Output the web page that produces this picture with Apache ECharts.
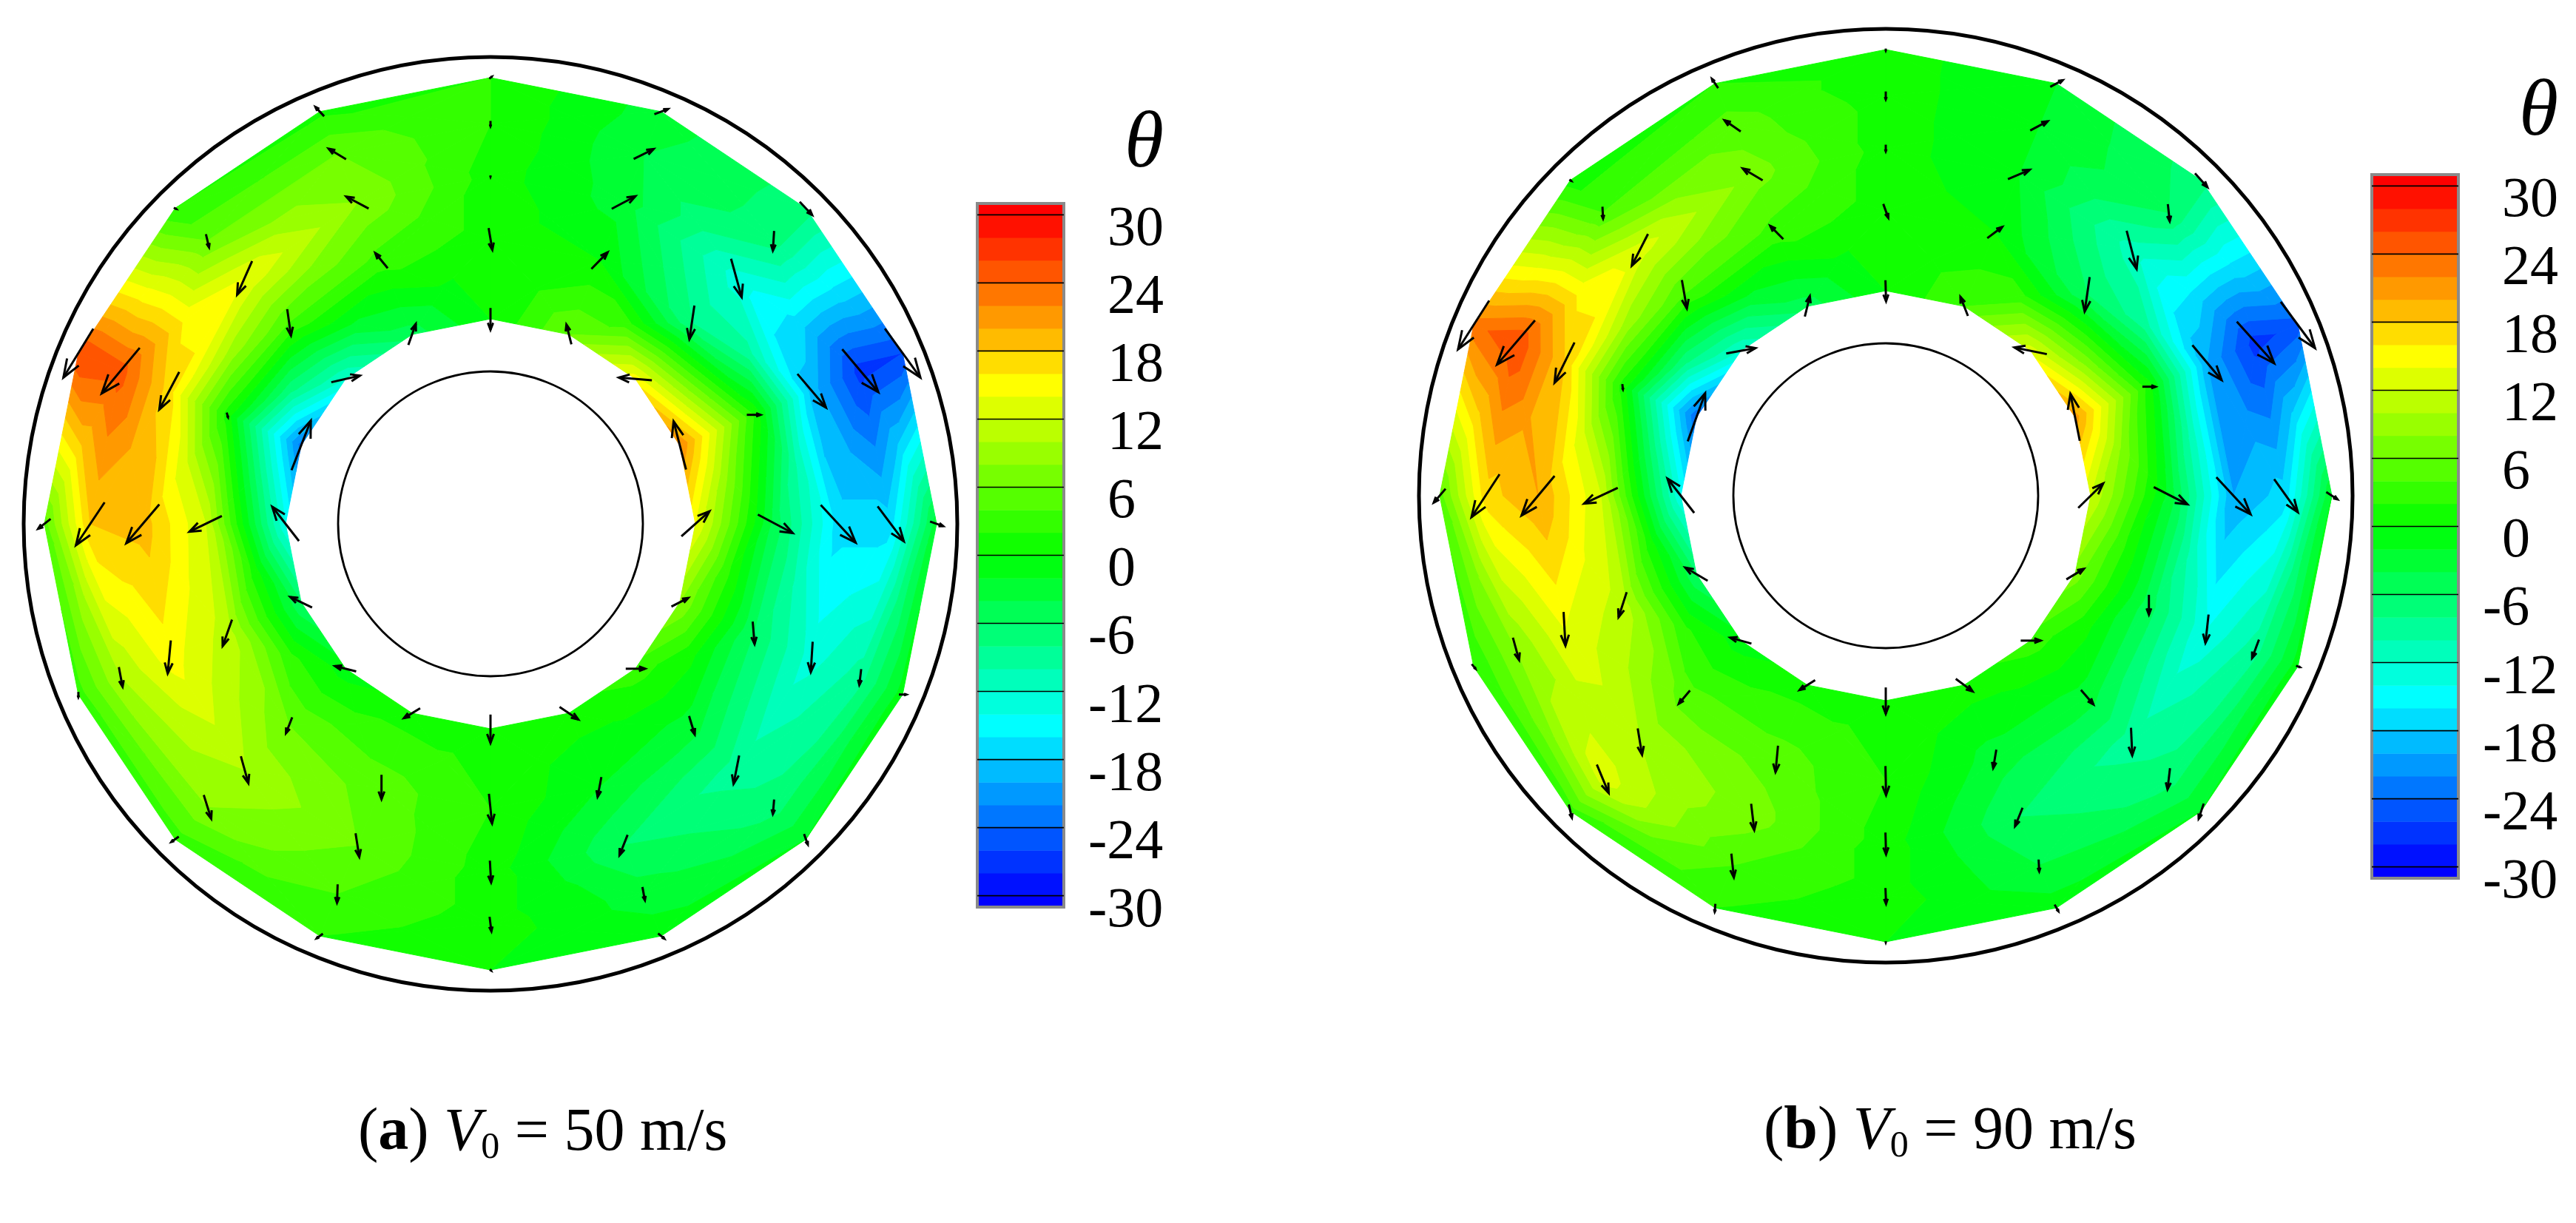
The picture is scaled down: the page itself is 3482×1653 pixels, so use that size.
<!DOCTYPE html>
<html>
<head>
<meta charset="utf-8">
<style>html,body{margin:0;padding:0;background:#fff}#c{width:3482px;height:1653px;filter:blur(0.7px)}</style>
<script src="https://cdn.jsdelivr.net/npm/echarts@6/dist/echarts.min.js"></script>
</head>
<body>
<div id="c"></div>
<script>
// Grid of the annulus: ring radii (inner to outer), 16 spokes clockwise from the top
const ringRadii = [277, 385, 470, 541, 603];
const spokeCount = 16;
const innerCircleRadius = 206;
const outerCircleRadius = 631;

// theta at each node: one row per spoke, inner ring first
const thetaA = [
  [0, 1, 1, 2, 2],
  [6, 0, -3, -4, -3],
  [15, -8, -13, -7, -7],
  [22, 2, -19, -27, -26],
  [14, -5, -17, -17, -3],
  [8, -6, -13, -9, -1],
  [3, -3, -9, -7, -2],
  [1, -2, -6, -3, -1],
  [1, 2, 1, 1, 0],
  [1, 5, 6, 4, 2],
  [-1, 6, 10, 8, 3],
  [-6, 11, 15, 10, 3],
  [-14, 12, 19, 18, 5],
  [-23, 1, 17, 25, 26],
  [-12, 4, 14, 6, 2],
  [-5, 3, 8, 6, 1.5]
];
const thetaB = [
  [0, 1, 1, 1, 1],
  [4, 0, -2, -2, -2],
  [13, -6, -11, -6, -7],
  [21, 1, -20, -27, -25],
  [12, -3, -20, -17, -2],
  [7, -5, -14, -9, -1],
  [3, -3, -9, -7, -2],
  [1, -3, -6, -4, -1],
  [1, 2, 1, 1, 0],
  [1, 5, 7, 4, 2],
  [-1, 5, 10, 13, 3],
  [-6, 11, 14, 8, 2],
  [-14, 12, 20, 17, 5],
  [-24, 1, 18, 26, 23],
  [-12, 4, 13, 4, 1],
  [-5, 3, 7, 5, 2]
];

// In-plane flow arrows [u, v] at each node (v measured downward), same layout
const arrowsA = [
  [[0,33],[6,33],[0,2],[0,8],[4,-3]],
  [[-8,-30],[26,-25],[38,-19],[32,-15],[22,-8]],
  [[-53,-4],[-8,51],[17,58],[-2,30],[20,20]],
  [[-20,-73],[22,0],[46,51],[58,65],[57,74]],
  [[45,-38],[56,28],[56,57],[42,53],[21,7]],
  [[27,-13],[3,34],[-3,46],[-3,24],[12,0]],
  [[31,0],[9,28],[-9,43],[-2,22],[6,16]],
  [[30,19],[-6,30],[-13,31],[4,20],[10,8]],
  [[0,43],[5,45],[2,33],[3,22],[2,2]],
  [[-26,15],[0,37],[6,36],[-1,28],[-10,7]],
  [[-34,-8],[-10,24],[12,41],[12,36],[-12,8]],
  [[-35,-16],[-15,40],[-5,50],[6,30],[0,8]],
  [[-43,-52],[-52,24],[-53,59],[-46,65],[-20,15]],
  [[31,-75],[2,7],[-32,57],[-61,69],[-48,74]],
  [[46,-10],[6,40],[-24,51],[5,20],[4,2]],
  [[12,-32],[-20,-23],[-36,-18],[-28,-16],[-14,-14]]
];
const arrowsB = [
  [[1,32],[8,21],[0,10],[0,12],[0,3]],
  [[-12,-29],[24,-17],[35,-14],[28,-14],[20,-10]],
  [[-52,-10],[-8,52],[16,58],[3,26],[20,21]],
  [[-15,-71],[21,0],[47,53],[60,63],[55,70]],
  [[40,-37],[54,26],[55,56],[38,50],[18,11]],
  [[28,-16],[0,30],[-5,43],[-11,28],[6,2]],
  [[32,0],[20,22],[2,42],[-4,32],[-8,23]],
  [[27,19],[-5,28],[-12,28],[1,18],[6,10]],
  [[0,40],[1,44],[1,33],[1,24],[0,2]],
  [[-25,15],[-4,40],[5,40],[4,36],[-1,12]],
  [[-34,-9],[-18,20],[7,40],[19,43],[5,20]],
  [[-36,-20],[-13,38],[3,51],[10,34],[6,7]],
  [[-43,-52],[-54,24],[-53,60],[-45,65],[-19,21]],
  [[28,-73],[1,8],[-32,61],[-61,67],[-50,74]],
  [[47,-8],[8,43],[-26,48],[1,18],[3,2]],
  [[8,-31],[-21,-20],[-32,-18],[-26,-17],[-10,-14]]
];

// Legend
const tickValues = [30, 24, 18, 12, 6, 0, -6, -12, -18, -24, -30];
const tickLabels = ['30', '24', '18', '12', '6', '0', '-6', '-12', '-18', '-24', '-30'];
const legendExtent = [-31, 31];
const contourStep = 2;

const SCALE_X = 0.842, SCALE_Y = 0.893;
const FONT = '"Liberation Serif","Times New Roman",serif';

function colorOf(v) {
  let r, g, b;
  if (v <= -15) { r = 0; g = 255 * (v + 30) / 15; b = 255; }
  else if (v <= 0) { r = 0; g = 255; b = 255 * (-v) / 15; }
  else if (v <= 15) { r = 255 * v / 15; g = 255; b = 0; }
  else { r = 255; g = 255 * (30 - v) / 15; b = 0; }
  const c = x => Math.round(Math.max(0, Math.min(255, x)));
  return 'rgb(' + c(r) + ',' + c(g) + ',' + c(b) + ')';
}
function bands() {
  const out = [[-31, -30, -30], [30, 31, 30]];
  for (let lo = -30; lo < 30; lo += contourStep) out.push([lo, lo + contourStep, lo + contourStep / 2]);
  return out;
}
const BANDS = bands();

function nodeXY(s, r) {
  const a = s * 2 * Math.PI / spokeCount;
  return [ringRadii[r] * Math.sin(a), ringRadii[r] * Math.cos(a)];
}
function clip(poly, limit, keepAbove) {
  const out = [];
  for (let i = 0; i < poly.length; i++) {
    const p = poly[i], q = poly[(i + 1) % poly.length];
    const pin = keepAbove ? p[2] >= limit : p[2] <= limit;
    const qin = keepAbove ? q[2] >= limit : q[2] <= limit;
    if (pin) out.push(p);
    if (pin !== qin) {
      const t = (limit - p[2]) / (q[2] - p[2]);
      out.push([p[0] + t * (q[0] - p[0]), p[1] + t * (q[1] - p[1]), limit]);
    }
  }
  return out;
}
function contourSeries(theta, axis) {
  const data = [];
  for (let s = 0; s < spokeCount; s++) for (let r = 0; r < ringRadii.length - 1; r++) {
    const c = nodeXY(s, r); data.push([c[0], c[1], s, r]);
  }
  return {
    type: 'custom', coordinateSystem: 'cartesian2d', xAxisIndex: axis, yAxisIndex: axis, silent: true, z: 2,
    data: data, animation: false,
    renderItem(params, api) {
      const s = api.value(2), r = api.value(3), s2 = (s + 1) % spokeCount;
      const mk = (a, b) => { const p = nodeXY(a, b); return [p[0], p[1], theta[a][b]]; };
      const q = [mk(s, r), mk(s2, r), mk(s2, r + 1), mk(s, r + 1)];
      const m = [0, 1, 2].map(k => (q[0][k] + q[1][k] + q[2][k] + q[3][k]) / 4);
      const children = [];
      for (let i = 0; i < 4; i++) {
        const tri = [q[i], q[(i + 1) % 4], m];
        for (const b of BANDS) {
          let poly = clip(tri, b[0], true);
          if (poly.length) poly = clip(poly, b[1], false);
          if (poly.length < 3) continue;
          const col = colorOf(b[2]);
          children.push({
            type: 'polygon',
            shape: { points: poly.map(p => api.coord([p[0], p[1]])) },
            style: { fill: col, stroke: col, lineWidth: 1 }
          });
        }
      }
      return { type: 'group', children };
    }
  };
}
function arrowSeries(arrows, axis) {
  const data = [];
  for (let s = 0; s < spokeCount; s++) for (let r = 0; r < ringRadii.length; r++) {
    const c = nodeXY(s, r);
    data.push([c[0], c[1], arrows[s][r][0] * SCALE_X, -arrows[s][r][1] * SCALE_Y]);
  }
  return {
    type: 'custom', coordinateSystem: 'cartesian2d', xAxisIndex: axis, yAxisIndex: axis, silent: true, z: 5,
    data: data, animation: false,
    renderItem(params, api) {
      const x = api.value(0), y = api.value(1), u = api.value(2), v = api.value(3);
      const tail = [x - u / 2, y - v / 2], tip = [x + u / 2, y + v / 2];
      const ca = Math.cos(0.36), sa = Math.sin(0.36), h = 0.34;
      const b1 = [tip[0] - h * (u * ca - v * sa), tip[1] - h * (u * sa + v * ca)];
      const b2 = [tip[0] - h * (u * ca + v * sa), tip[1] - h * (-u * sa + v * ca)];
      const st = { stroke: '#000', fill: 'none', lineWidth: 3 };
      return { type: 'group', children: [
        { type: 'polyline', shape: { points: [api.coord(tail), api.coord(tip)] }, style: st },
        { type: 'polyline', shape: { points: [api.coord(b1), api.coord(tip), api.coord(b2)] }, style: st }
      ] };
    }
  };
}
function circleSeries(axis) {
  return {
    type: 'custom', coordinateSystem: 'cartesian2d', xAxisIndex: axis, yAxisIndex: axis, silent: true, z: 4,
    data: [[0, 0, innerCircleRadius, 2.8], [0, 0, outerCircleRadius, 5]], animation: false,
    renderItem(params, api) {
      const c = api.coord([0, 0]);
      const e = api.coord([api.value(2), 0]);
      return { type: 'circle', shape: { cx: c[0], cy: c[1], r: e[0] - c[0] },
        style: { fill: 'none', stroke: '#000', lineWidth: api.value(3) } };
    }
  };
}
function legendSeries(axis) {
  return [{
    type: 'custom', coordinateSystem: 'cartesian2d', xAxisIndex: axis, yAxisIndex: axis, silent: true, z: 3,
    data: BANDS.map(b => [0, b[0], b[1], b[2]]), animation: false,
    renderItem(params, api) {
      const a = api.coord([0, api.value(1)]), b = api.coord([1, api.value(2)]);
      return { type: 'rect', shape: { x: a[0], y: b[1], width: b[0] - a[0], height: a[1] - b[1] + 0.5 },
        style: { fill: colorOf(api.value(3)) } };
    }
  }, {
    type: 'custom', coordinateSystem: 'cartesian2d', xAxisIndex: axis, yAxisIndex: axis, silent: true, z: 4,
    data: [[0, legendExtent[0], legendExtent[1]]], animation: false,
    renderItem(params, api) {
      const a = api.coord([0, api.value(1)]), b = api.coord([1, api.value(2)]);
      return { type: 'rect', shape: { x: a[0], y: b[1], width: b[0] - a[0], height: a[1] - b[1] },
        style: { fill: 'none', stroke: '#8a8a8a', lineWidth: 4 } };
    }
  }, {
    type: 'custom', coordinateSystem: 'cartesian2d', xAxisIndex: axis, yAxisIndex: axis, silent: true, z: 5,
    data: tickValues.map((v, i) => [0, v, i]), animation: false,
    renderItem(params, api) {
      const a = api.coord([0, api.value(1)]), b = api.coord([1, api.value(1)]);
      const label = tickLabels[api.value(2)], neg = label[0] === '-';
      return { type: 'group', children: [
        { type: 'line', shape: { x1: a[0], y1: a[1], x2: b[0], y2: b[1] }, style: { stroke: '#000', lineWidth: 1.6 } },
        { type: 'text', style: { text: label, x: a[0] + 176 - (neg ? 26 : 0), y: a[1] + 21, align: 'left', verticalAlign: 'middle',
            font: '76px ' + FONT, fill: '#000' } }
      ] };
    }
  }];
}

const half = 640;
const axisX = i => ({ type: 'value', gridIndex: i, show: false, min: -half, max: half });
const axisY = i => ({ type: 'value', gridIndex: i, show: false, min: -half, max: half });
const legX = i => ({ type: 'value', gridIndex: i, show: false, min: 0, max: 1 });
const legY = i => ({ type: 'value', gridIndex: i, show: false, min: legendExtent[0], max: legendExtent[1] });

const rich = {
  n: { fontFamily: FONT, fontSize: 82, fontWeight: 'normal', color: '#000' },
  b: { fontFamily: FONT, fontSize: 82, fontWeight: 'bold', color: '#000' },
  i: { fontFamily: FONT, fontSize: 82, fontWeight: 'normal', fontStyle: 'italic', color: '#000' },
  s: { fontFamily: FONT, fontSize: 50, fontWeight: 'normal', color: '#000', verticalAlign: 'bottom', lineHeight: 90 }
};
const captionA = '{n|(}{b|a}{n|) }{i|V}{s|0}{n| = 50 m/s}';
const captionB = '{n|(}{b|b}{n|) }{i|V}{s|0}{n| = 90 m/s}';
const thetaLabel = { text: 'θ', textStyle: { fontFamily: FONT, fontStyle: 'italic', fontSize: 108, fontWeight: 'normal', color: '#000' } };

const option = {
  backgroundColor: '#fff',
  animation: false,
  title: [
    { text: captionA, left: 484, top: 1487, padding: 0, textStyle: { rich } },
    { text: captionB, left: 2384, top: 1485, padding: 0, textStyle: { rich } },
    Object.assign({ left: 1520, top: 143, padding: 0 }, thetaLabel),
    Object.assign({ left: 3405, top: 100, padding: 0 }, thetaLabel)
  ],
  grid: [
    { left: 663 - half, top: 708 - half, width: 2 * half, height: 2 * half },
    { left: 2549 - half, top: 670 - half, width: 2 * half, height: 2 * half },
    { left: 1321, top: 275, width: 117, height: 951 },
    { left: 3206, top: 236, width: 117, height: 951 }
  ],
  xAxis: [axisX(0), axisX(1), legX(2), legX(3)],
  yAxis: [axisY(0), axisY(1), legY(2), legY(3)],
  series: [
    contourSeries(thetaA, 0), circleSeries(0), arrowSeries(arrowsA, 0),
    contourSeries(thetaB, 1), circleSeries(1), arrowSeries(arrowsB, 1),
    ...legendSeries(2), ...legendSeries(3)
  ]
};
const chart = echarts.init(document.getElementById('c'));
chart.setOption(option);
</script>
</body>
</html>
